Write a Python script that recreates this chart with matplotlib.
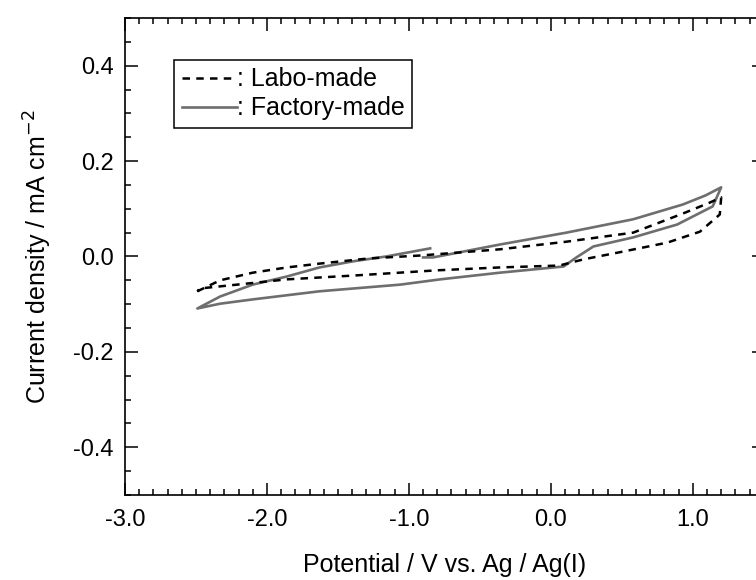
import numpy as np
import matplotlib
matplotlib.use("Agg")
import matplotlib.pyplot as plt
from matplotlib.ticker import MultipleLocator

plt.rcParams['font.family'] = ['Liberation Sans', 'DejaVu Sans']

# Labo-made: forward scan (upper branch) then reverse (lower branch)
labo_v = [-2.49, -2.33, -2.10, -1.86, -1.63, -1.28, -0.92, -0.36, 0.11, 0.58, 0.93, 1.12, 1.20,
          1.19, 1.05, 0.82, 0.47, 0.23, 0.06, -0.36, -0.80, -1.39, -1.86, -2.21, -2.47, -2.49]
labo_j = [-0.073, -0.050, -0.034, -0.023, -0.015, -0.004, 0.002, 0.015, 0.031, 0.050, 0.090, 0.113, 0.124,
          0.088, 0.052, 0.029, 0.008, -0.006, -0.019, -0.023, -0.029, -0.040, -0.048, -0.059, -0.067, -0.073]

# Factory-made: starts near -0.9 V, sweeps positive, back to -2.5 V, then up again
fact_v = [-0.90, -0.83, -0.36, 0.11, 0.58, 0.93, 1.09, 1.20,
          1.14, 0.89, 0.58, 0.30, 0.18, 0.09, -0.36, -0.78, -1.06, -1.63, -2.10, -2.33, -2.49,
          -2.33, -2.10, -1.86, -1.63, -1.39, -1.16, -0.85]
fact_j = [-0.002, -0.002, 0.025, 0.050, 0.078, 0.109, 0.128, 0.145,
          0.105, 0.067, 0.040, 0.021, -0.002, -0.021, -0.034, -0.048, -0.059, -0.073, -0.090, -0.099, -0.109,
          -0.084, -0.059, -0.042, -0.023, -0.010, 0.000, 0.017]

fig = plt.figure(figsize=(7.56, 5.80), dpi=100)
ax = fig.add_axes([0.1653, 0.1466, 0.845, 0.8224])

ax.plot(labo_v, labo_j, color='black', lw=1.8, ls=(0, (3, 2.5)), label=': Labo-made', zorder=3)
ax.plot(fact_v, fact_j, color='#6e6e6e', lw=1.9, label=': Factory-made', zorder=2)

ax.set_xlim(-3.0, 1.5)
ax.set_ylim(-0.5, 0.5)
ax.xaxis.set_major_locator(MultipleLocator(1.0))
ax.xaxis.set_minor_locator(MultipleLocator(0.1))
ax.yaxis.set_major_locator(MultipleLocator(0.2))
ax.yaxis.set_minor_locator(MultipleLocator(0.05))
ax.xaxis.set_major_formatter(lambda x, pos: f"{x:.1f}")
ax.yaxis.set_major_formatter(lambda y, pos: f"{y:.1f}")

ax.tick_params(which='both', direction='in', top=True, right=True, width=1.1, labelsize=17)
ax.tick_params(which='major', length=9)
ax.tick_params(which='minor', length=4.5)
ax.tick_params(axis='x', which='major', pad=10)
ax.tick_params(axis='y', which='major', pad=8)
for s in ax.spines.values():
    s.set_linewidth(1.2)

ax.set_xlabel('Potential / V vs. Ag / Ag(I)', fontsize=18, labelpad=16)
ax.set_ylabel('Current density / mA cm$^{-2}$', fontsize=18, labelpad=14)

leg = ax.legend(loc='upper left', bbox_to_anchor=(0.077, 0.912), borderaxespad=0,
                fontsize=18, handlelength=2.2, handletextpad=0.0, fancybox=False,
                edgecolor='black', framealpha=1, borderpad=0.3, labelspacing=0.2)
leg.get_frame().set_linewidth(1.1)

fig.savefig('out.png', dpi=100)
